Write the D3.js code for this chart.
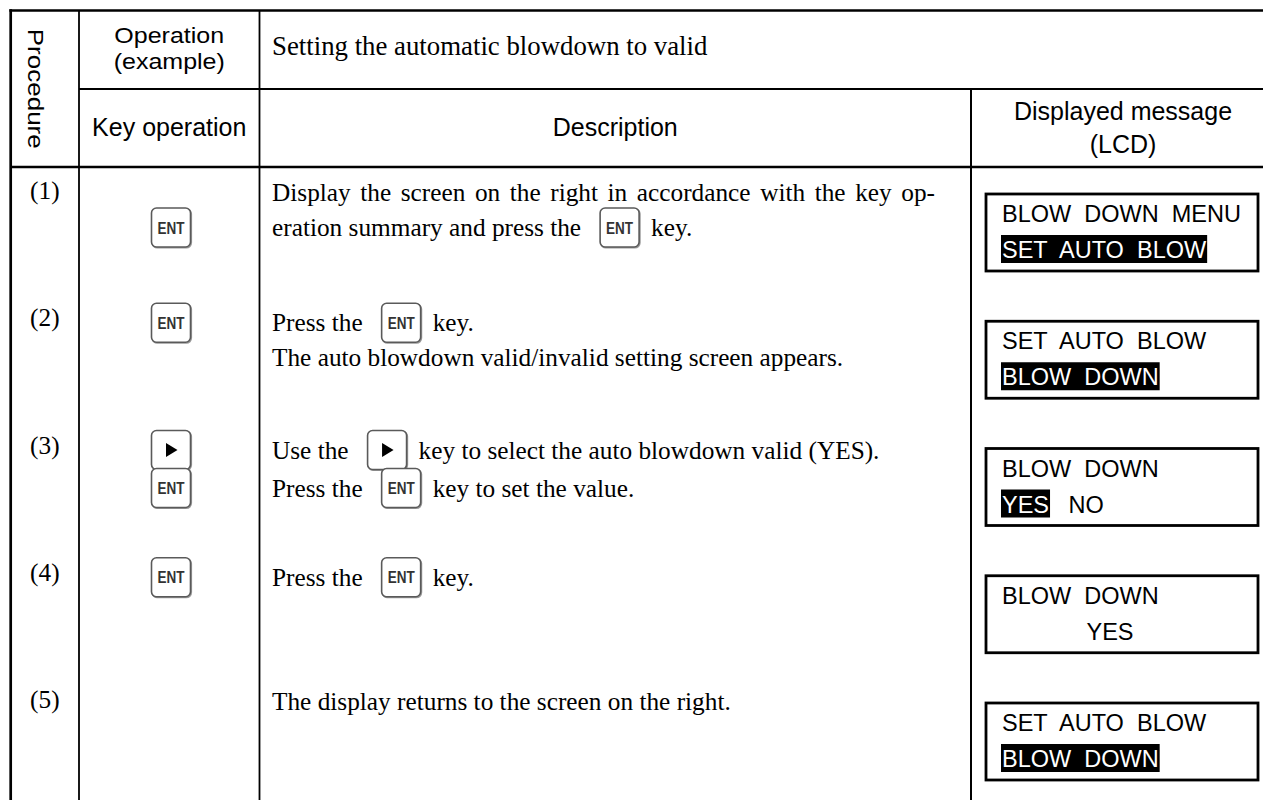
<!DOCTYPE html>
<html><head><meta charset="utf-8">
<script src="https://cdn.jsdelivr.net/npm/d3@7"></script>
<style>body{margin:0;background:#fff}svg{display:block}text{white-space:pre}</style>
</head><body><svg id="c" width="1263" height="800"></svg>
<script>
// ---------- data ----------
const headerProcedure = "Procedure";
const headerOperation = ["Operation", "(example)"];
const headerTitle = "Setting the automatic blowdown to valid";
const headerKeyOp = "Key operation";
const headerDesc = "Description";
const headerLCD = ["Displayed message", "(LCD)"];
const stepLabels = ["(1)", "(2)", "(3)", "(4)", "(5)"];
const keyOperations = [["ENT"], ["ENT"], ["RIGHT", "ENT"], ["ENT"], []];
const descriptions = [
  [["Display the screen on the right in accordance with the key op-"], ["eration summary and press the", {k: "ENT"}, "key."]],
  [["Press the", {k: "ENT"}, "key."], ["The auto blowdown valid/invalid setting screen appears."]],
  [["Use the", {k: "RIGHT"}, "key to select the auto blowdown valid (YES)."], ["Press the", {k: "ENT"}, "key to set the value."]],
  [["Press the", {k: "ENT"}, "key."]],
  [["The display returns to the screen on the right."]]
];
const lcdLine1 = [[{t: "BLOW  DOWN  MENU"}], [{t: "SET  AUTO  BLOW"}], [{t: "BLOW  DOWN"}], [{t: "BLOW  DOWN"}], [{t: "SET  AUTO  BLOW"}]];
const lcdLine2 = [[{t: "SET  AUTO  BLOW", hl: true}], [{t: "BLOW  DOWN", hl: true}], [{t: "YES", hl: true}, {t: "   NO"}], [{t: "             YES"}], [{t: "BLOW  DOWN", hl: true}]];

// ---------- layout ----------
const SANS = "'Liberation Sans', Arial, Helvetica, sans-serif";
const SERIF = "'Liberation Serif', 'Times New Roman', Times, serif";
const col = {left: 10.7, proc: 79, key: 259.5, lcd: 971, right: 1263};
const hdr = {top: 10.5, mid: 89, bottom: 167};
const descX0 = 272, descRight = 935;
const keyW = 39, keyH = 39, gapBefore = 19, gapAfter = 12;
const keyColCenter = 171;
const lcdBox = {x: 986, w: 272, h: 77, tx: 1002};

const svg = d3.select("#c");
const rowY = d3.scaleLinear().domain([0, stepLabels.length - 1]).range([194, 703]);

// ---------- grid lines ----------
const lines = [
  {x1: col.left - 1.35, x2: col.right, y1: hdr.top, y2: hdr.top, w: 2.4},
  {x1: col.left, x2: col.left, y1: hdr.top - 1.2, y2: 800, w: 2.7},
  {x1: col.proc, x2: col.proc, y1: hdr.top, y2: 800, w: 1.8},
  {x1: col.key, x2: col.key, y1: hdr.top, y2: 800, w: 1.8},
  {x1: col.lcd, x2: col.lcd, y1: hdr.mid, y2: 800, w: 2},
  {x1: col.proc, x2: col.right, y1: hdr.mid, y2: hdr.mid, w: 2},
  {x1: col.left, x2: col.right, y1: hdr.bottom, y2: hdr.bottom, w: 2.7}
];
svg.append("g").selectAll("line").data(lines).join("line")
  .attr("x1", d => d.x1).attr("x2", d => d.x2).attr("y1", d => d.y1).attr("y2", d => d.y2)
  .attr("stroke", "#000").attr("stroke-width", d => d.w);

// ---------- header ----------
const H = svg.append("g").attr("fill", "#000");
H.append("text").attr("transform", `translate(28,${(hdr.top + hdr.bottom) / 2}) rotate(90)`)
  .attr("text-anchor", "middle").attr("font-family", SANS).attr("font-size", 22)
  .attr("textLength", 120).attr("lengthAdjust", "spacingAndGlyphs").text(headerProcedure);
const opCx = (col.proc + col.key) / 2;
H.selectAll("text.op").data(headerOperation).join("text").attr("class", "op")
  .attr("x", opCx).attr("y", (d, i) => 42.5 + i * 26).attr("text-anchor", "middle")
  .attr("font-family", SANS).attr("font-size", 22.5).text(d => d)
  .each(function () {
    const w = this.getComputedTextLength();
    d3.select(this).attr("textLength", w * 25 / 22.5).attr("lengthAdjust", "spacingAndGlyphs");
  });
H.append("text").attr("x", opCx).attr("y", 136).attr("text-anchor", "middle")
  .attr("font-family", SANS).attr("font-size", 25).text(headerKeyOp);
H.append("text").attr("x", descX0).attr("y", 55).attr("font-family", SERIF).attr("font-size", 26.8).text(headerTitle);
H.append("text").attr("x", (col.key + col.lcd) / 2).attr("y", 136).attr("text-anchor", "middle")
  .attr("font-family", SANS).attr("font-size", 25).text(headerDesc);
H.selectAll("text.lcdh").data(headerLCD).join("text").attr("class", "lcdh")
  .attr("x", 1123).attr("y", (d, i) => 120 + i * 33).attr("text-anchor", "middle")
  .attr("font-family", SANS).attr("font-size", 25).text(d => d);

// ---------- key glyph ----------
function drawKey(g, type, x, base) {
  const y = base - 28;
  const k = g.append("g");
  k.append("rect").attr("x", x + 0.8).attr("y", y + 0.8).attr("width", keyW).attr("height", keyH)
    .attr("rx", 5).attr("fill", "none").attr("stroke", "#9a9a9a").attr("stroke-width", 1.6);
  k.append("rect").attr("x", x).attr("y", y).attr("width", keyW).attr("height", keyH)
    .attr("rx", 5).attr("fill", "#fff").attr("stroke", "#5a5a5a").attr("stroke-width", 1.6);
  const cx = x + keyW / 2, cy = y + keyH / 2;
  if (type === "ENT") {
    k.append("text").attr("x", cx).attr("y", cy + 6).attr("text-anchor", "middle")
      .attr("font-family", SANS).attr("font-size", 16).attr("font-weight", "bold").attr("fill", "#333")
      .attr("textLength", 27).attr("lengthAdjust", "spacingAndGlyphs").text("ENT");
  } else {
    k.append("path").attr("d", `M${cx - 5},${cy - 7}L${cx + 6.5},${cy}L${cx - 5},${cy + 7}Z`).attr("fill", "#000");
  }
}

// ---------- body rows ----------
const B = svg.append("g");
B.selectAll("text.lbl").data(stepLabels).join("text").attr("class", "lbl")
  .attr("x", (col.left + col.proc) / 2).attr("y", (d, i) => rowY(i) + 5)
  .attr("text-anchor", "middle").attr("font-family", SERIF).attr("font-size", 25.3).text(d => d);

function addText(g, s, x, y) {
  return g.append("text").attr("x", x).attr("y", y).attr("font-family", SERIF)
    .attr("font-size", 25.3).attr("fill", "#000").text(s);
}

descriptions.forEach((rows, i) => {
  const base = rowY(i);
  let y = 0, prevKey = false;
  const keyYs = [];
  rows.forEach((segs, li) => {
    const hasKey = segs.some(s => typeof s === "object");
    if (li === 0) y = base + (hasKey ? 10 : 7);
    else y += (hasKey && prevKey) ? 38 : 35;
    prevKey = hasKey;
    const justify = segs.length === 1 && typeof segs[0] === "string" && segs[0].endsWith("-");
    if (justify) {
      const words = segs[0].split(" ");
      const ws = words.map(w => addText(B, w, 0, y));
      const widths = ws.map(t => t.node().getComputedTextLength());
      const gap = (descRight - descX0 - d3.sum(widths)) / (words.length - 1);
      let x = descX0;
      ws.forEach((t, wi) => { t.attr("x", x); x += widths[wi] + gap; });
    } else {
      let x = descX0;
      segs.forEach((s, si) => {
        if (typeof s === "string") {
          if (si > 0) x += gapAfter;
          const t = addText(B, s, x, y);
          x += t.node().getComputedTextLength();
        } else {
          x += gapBefore;
          drawKey(B, s.k, x, y);
          keyYs.push(y);
          x += keyW;
        }
      });
    }
  });
  keyOperations[i].forEach((k, j) => drawKey(B, k, keyColCenter - keyW / 2, keyYs[j]));
});

// ---------- LCD boxes ----------
const L = svg.append("g");
function lcdLine(g, segs, x0, base) {
  let x = x0;
  segs.forEach(s => {
    const t = g.append("text").attr("x", x).attr("y", base).attr("xml:space", "preserve")
      .attr("font-family", SANS).attr("font-size", 23.5).attr("fill", s.hl ? "#fff" : "#000").text(s.t);
    const w = t.node().getComputedTextLength();
    if (s.hl) {
      g.insert("rect", () => t.node()).attr("x", x - 1).attr("y", base - 23).attr("width", w + 2)
        .attr("height", 28).attr("fill", "#000");
    }
    x += w;
  });
}
stepLabels.forEach((d, i) => {
  const y = rowY(i);
  const g = L.append("g");
  g.append("rect").attr("x", lcdBox.x).attr("y", y).attr("width", lcdBox.w).attr("height", lcdBox.h)
    .attr("fill", "none").attr("stroke", "#000").attr("stroke-width", 2.8);
  lcdLine(g, lcdLine1[i], lcdBox.tx, y + 28);
  lcdLine(g, lcdLine2[i], lcdBox.tx, y + 64);
});
</script></body></html>
